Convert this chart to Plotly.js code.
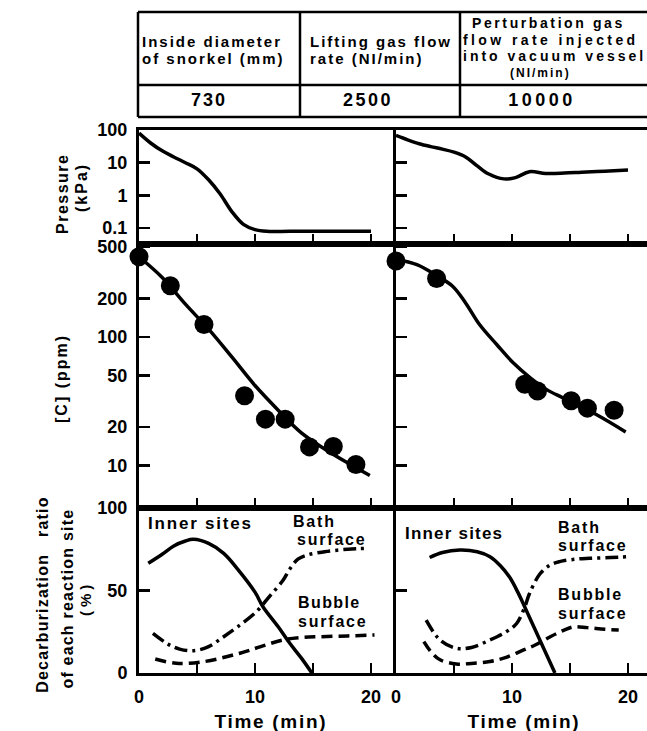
<!DOCTYPE html>
<html><head><meta charset="utf-8">
<script src="https://cdn.plot.ly/plotly-3.0.1.min.js"></script>
<style>
html,body{margin:0;padding:0;background:#fff;}
#chart{width:647px;height:731px;}
</style>
</head><body><div id="chart"></div>
<script>
// ---------------- data ----------------
// Table
const tableHeaders = [
  ["Inside diameter", "of snorkel (mm)"],
  ["Lifting gas flow", "rate (NI/min)"],
  ["Perturbation gas", "flow rate injected", "into vacuum vessel", "(NI/min)"]
];
const tableValues = ["730", "2500", "10000"];

// Pressure (kPa) vs time (min)
const pressLeftT = [0, 1, 2, 3, 4, 5, 6, 7, 8, 9, 10, 11, 13, 16, 20];
const pressLeftV = [80, 40, 23, 15, 10, 6.5, 3, 1.1, 0.32, 0.13, 0.09, 0.08, 0.08, 0.08, 0.08];
const pressRightT = [0, 1, 2, 3, 4, 5, 6, 7, 8, 9.3, 10.3, 11.5, 12.9, 14.5, 16, 18, 20];
const pressRightV = [68, 50, 38, 31, 26, 21, 15, 8, 4.5, 3.2, 3.5, 5.3, 4.7, 4.8, 5.1, 5.5, 6.0];

// [C] (ppm): measured points and fitted curves
const cDotLT = [0, 2.7, 5.6, 9.1, 10.9, 12.6, 14.7, 16.75, 18.7];
const cDotLV = [420, 250, 125, 35, 23, 23, 14, 14.1, 10.2];
const cLineLT = [0, 2, 4, 6, 8, 10, 12, 14, 16, 18, 19.9];
const cLineLV = [420, 290, 180, 115, 70, 42, 27, 18, 13.5, 10.5, 8.4];
const cDotRT = [0, 3.5, 11.1, 12.2, 15.1, 16.5, 18.8];
const cDotRV = [390, 285, 43, 38, 32, 28, 27];
const cLineRT = [0, 1.8, 3.5, 4.9, 6, 7.2, 8.7, 10.1, 11.6, 13, 14.4, 17.3, 19.8];
const cLineRV = [400, 365, 300, 247, 184, 125, 87, 63, 48, 39, 33.6, 24.9, 18.3];

// Decarburization ratio (%)
const innerLT = [0.8, 2, 3, 4, 4.7, 6, 7.3, 8.5, 10, 10.7, 12, 13, 14, 14.9];
const innerLV = [66.5, 72, 77, 80, 81, 78.5, 72.5, 63, 49, 40, 28, 18, 9, 0];
const bathLT = [1.2, 2.5, 3.5, 4.7, 6, 7.3, 8.5, 10.1, 11.2, 12.4, 13, 13.7, 14.5, 16, 18, 19.7];
const bathLV = [24, 17.5, 14.5, 13.5, 16, 22, 28, 37, 46, 56, 63, 69, 71.5, 73.5, 75, 75.5];
const bubbleLT = [1.4, 3.2, 5.5, 8.7, 10.5, 12.4, 14, 15.6, 18, 20.3];
const bubbleLV = [8.5, 5.9, 6.8, 12, 16, 20, 21.5, 22, 22.5, 23];

const innerRT = [2.9, 4, 5.5, 7, 8.1, 9, 9.8, 10.5, 11.1, 12.4, 13.7];
const innerRV = [70, 73, 74.5, 73.5, 70.5, 65, 58, 49, 40, 20, 0];
const bathRT = [2.6, 3.8, 5.2, 6.5, 8.1, 9.5, 10.4, 11.1, 11.5, 12.4, 13.3, 14.1, 15.5, 16.7, 18.5, 20];
const bathRV = [32, 20, 15, 15.5, 20, 25, 30, 40, 48, 60, 65.5, 67.5, 69, 69.5, 70, 70.5];
const bubbleRT = [2.4, 3, 3.8, 5.2, 6.5, 8.1, 9.5, 11, 12, 13.3, 14.5, 15.3, 16.5, 18, 19.2];
const bubbleRV = [19, 13, 8, 5.5, 5.8, 7, 9.5, 14, 17, 22, 26, 28, 27.5, 26.5, 26];

// Tick labels
const timeTickVals = [0, 5, 10, 15, 20];
const timeTickText = ["0", "", "10", "", "20"];
const pressTickVals = [0.1, 1, 10, 100];
const pressTickText = ["0.1", "1", "10", "100"];
const carbTickVals = [10, 20, 50, 100, 200, 500];
const carbTickText = ["10", "20", "50", "100", "200", "500"];
const decTickVals = [0, 50, 100];
const decTickText = ["0", "50", "100"];

// ---------------- layout helpers ----------------
const W = 647, H = 731;
const PX = 11.6; // pixels per minute
const px = x => x / W;
const py = y => 1 - y / H;
const FONT = 'Liberation Sans, Arial, sans-serif';
const tickFont = {family: FONT, size: 18, color: '#000', weight: 'bold'};

const leftDom = [px(139), px(396)], rightDom = [px(396), 1];
const leftRange = [0, (396 - 139) / PX], rightRange = [0, (W - 396) / PX];
const rowP = [py(244), py(130)], rowC = [py(508), py(244)], rowD = [py(673), py(508)];

function xAxis(domain, range, anchor, labels) {
  return {domain, range, anchor, type: 'linear', showline: true, linewidth: 3, linecolor: '#000',
    mirror: true, ticks: 'inside', ticklen: 10, tickwidth: 2.5, tickcolor: '#000',
    tickmode: 'array', tickvals: timeTickVals, ticktext: timeTickText,
    showticklabels: labels, ticklabelstandoff: 5, tickfont: tickFont,
    showgrid: false, zeroline: false, fixedrange: true};
}
function yAxis(domain, range, anchor, type, vals, text, labels) {
  return {domain, range, anchor, type, showline: true, linewidth: 3, linecolor: '#000',
    mirror: false, ticks: 'inside', ticklen: 11, tickwidth: 2.5, tickcolor: '#000',
    tickmode: 'array', tickvals: vals, ticktext: text, showticklabels: labels,
    ticklabelstandoff: 5, tickfont: tickFont,
    showgrid: false, zeroline: false, fixedrange: true};
}

const pRange = [2 - 114 / 32.7, 2];
const cRange = [2 - 171 / 128.7, 2 + 93 / 128.7];

const layout = {
  width: W, height: H, autosize: false,
  margin: {l: 0, r: 0, t: 0, b: 0, pad: 0},
  paper_bgcolor: '#fff', plot_bgcolor: 'rgba(0,0,0,0)',
  showlegend: false,
  font: {family: FONT, color: '#000'},
  xaxis: xAxis(leftDom, leftRange, 'y', true),
  yaxis: yAxis(rowD, [0, 100], 'x', 'linear', decTickVals, decTickText, true),
  xaxis2: xAxis(rightDom, rightRange, 'y2', true),
  yaxis2: yAxis(rowD, [0, 100], 'x2', 'linear', decTickVals, decTickText, false),
  xaxis3: xAxis(leftDom, leftRange, 'y3', false),
  yaxis3: yAxis(rowC, cRange, 'x3', 'log', carbTickVals, carbTickText, true),
  xaxis4: xAxis(rightDom, rightRange, 'y4', false),
  yaxis4: yAxis(rowC, cRange, 'x4', 'log', carbTickVals, carbTickText, false),
  xaxis5: xAxis(leftDom, leftRange, 'y5', false),
  yaxis5: yAxis(rowP, pRange, 'x5', 'log', pressTickVals, pressTickText, true),
  xaxis6: xAxis(rightDom, rightRange, 'y6', false),
  yaxis6: yAxis(rowP, pRange, 'x6', 'log', pressTickVals, pressTickText, false),
  shapes: [],
  annotations: []
};

// table lines
const tl = {color: '#000', width: 2.5};
[12, 85, 117].forEach(y => layout.shapes.push({type: 'line', xref: 'paper', yref: 'paper',
  x0: px(138), x1: 1, y0: py(y), y1: py(y), line: tl}));
[138, 300, 460].forEach(x => layout.shapes.push({type: 'line', xref: 'paper', yref: 'paper',
  x0: px(x), x1: px(x), y0: py(12), y1: py(117), line: tl}));

// annotations with per-annotation letter spacing
const spacing = [];
function ann(text, x, y, opts) {
  opts = opts || {};
  layout.annotations.push({
    text, xref: 'paper', yref: 'paper', x: px(x), y: py(y),
    xanchor: opts.xa || 'center', yanchor: 'middle', align: opts.xa || 'center',
    showarrow: false, borderpad: 0, borderwidth: 0, textangle: opts.rot || 0,
    font: {family: FONT, size: opts.size || 17, color: '#000', weight: 'bold'}
  });
  spacing.push(opts.ls || 0);
}
// table text
ann(tableHeaders[0][0], 142, 41.7, {xa: 'left', size: 15, ls: 2});
ann(tableHeaders[0][1], 142, 58.3, {xa: 'left', size: 15, ls: 2});
ann(tableHeaders[1][0], 310, 41.7, {xa: 'left', size: 15, ls: 2});
ann(tableHeaders[1][1], 310, 58.3, {xa: 'left', size: 15, ls: 2});
ann(tableHeaders[2][0], 472, 23, {xa: 'left', size: 14, ls: 2.6});
ann(tableHeaders[2][1], 463, 40, {xa: 'left', size: 14, ls: 3.4});
ann(tableHeaders[2][2], 463, 56, {xa: 'left', size: 14, ls: 3});
ann(tableHeaders[2][3], 540, 73, {size: 12, ls: 2});
ann(tableValues[0], 209, 100, {size: 18, ls: 2});
ann(tableValues[1], 368, 100, {size: 18, ls: 2.5});
ann(tableValues[2], 542, 100, {size: 18, ls: 3.5});
// axis titles
ann('Pressure', 62, 193, {rot: -90, size: 16, ls: 1.5});
ann('(kPa)', 81, 188, {rot: -90, size: 16, ls: 2});
ann('[C] (ppm)', 61, 379, {rot: -90, size: 16, ls: 2});
ann('Decarburization\u00a0\u00a0\u00a0ratio', 42, 595, {rot: -90, size: 16, ls: 1.2});
ann('of each reaction site', 67, 599, {rot: -90, size: 16, ls: 1.2});
ann('(%)', 85, 599, {rot: -90, size: 15, ls: 4});
ann('Time (min)', 271, 721, {size: 19, ls: 1.7});
ann('Time (min)', 524, 721, {size: 19, ls: 1.7});
// curve labels
ann('Inner sites', 148, 523, {xa: 'left', ls: 1.8});
ann('Bath', 293, 521, {xa: 'left', size: 16, ls: 1.8});
ann('surface', 297, 539, {xa: 'left', size: 16, ls: 1.8});
ann('Bubble', 298, 602, {xa: 'left', size: 16, ls: 1.4});
ann('surface', 298, 621, {xa: 'left', size: 16, ls: 1.8});
ann('Inner sites', 405, 533, {xa: 'left', ls: 1.2});
ann('Bath', 558, 527, {xa: 'left', size: 16, ls: 1.8});
ann('surface', 558, 545, {xa: 'left', size: 16, ls: 1.8});
ann('Bubble', 558, 594, {xa: 'left', size: 16, ls: 1.8});
ann('surface', 558, 613, {xa: 'left', size: 16, ls: 1.8});

const css = spacing.map((s, i) => s ? `g.annotation[data-index="${i}"] text{letter-spacing:${s}px}` : '').join('\n');
const st = document.createElement('style'); st.textContent = css; document.head.appendChild(st);

// ---------------- traces ----------------
const LW = 3.5;
const solid = {color: '#000', width: LW, shape: 'spline', smoothing: 1};
const dashDot = {color: '#000', width: LW, shape: 'spline', smoothing: 1, dash: '13px,5px,3px,5px'};
const dashed = {color: '#000', width: LW, shape: 'spline', smoothing: 1, dash: '11px,6px'};
function line(x, y, xa, ya, l) {
  return {type: 'scatter', mode: 'lines', x, y, xaxis: xa, yaxis: ya, line: l, hoverinfo: 'skip'};
}
function dots(x, y, xa, ya) {
  return {type: 'scatter', mode: 'markers', x, y, xaxis: xa, yaxis: ya, cliponaxis: false,
    marker: {color: '#000', size: 19, line: {width: 0}}, hoverinfo: 'skip'};
}
const data = [
  line(pressLeftT, pressLeftV, 'x5', 'y5', solid),
  line(pressRightT, pressRightV, 'x6', 'y6', solid),
  line(cLineLT, cLineLV, 'x3', 'y3', solid),
  dots(cDotLT, cDotLV, 'x3', 'y3'),
  line(cLineRT, cLineRV, 'x4', 'y4', solid),
  dots(cDotRT, cDotRV, 'x4', 'y4'),
  line(innerLT, innerLV, 'x', 'y', solid),
  line(bathLT, bathLV, 'x', 'y', dashDot),
  line(bubbleLT, bubbleLV, 'x', 'y', dashed),
  line(innerRT, innerRV, 'x2', 'y2', solid),
  line(bathRT, bathRV, 'x2', 'y2', dashDot),
  line(bubbleRT, bubbleRV, 'x2', 'y2', dashed)
];

Plotly.newPlot('chart', data, layout, {displayModeBar: false, staticPlot: true});
</script>
</body></html>
